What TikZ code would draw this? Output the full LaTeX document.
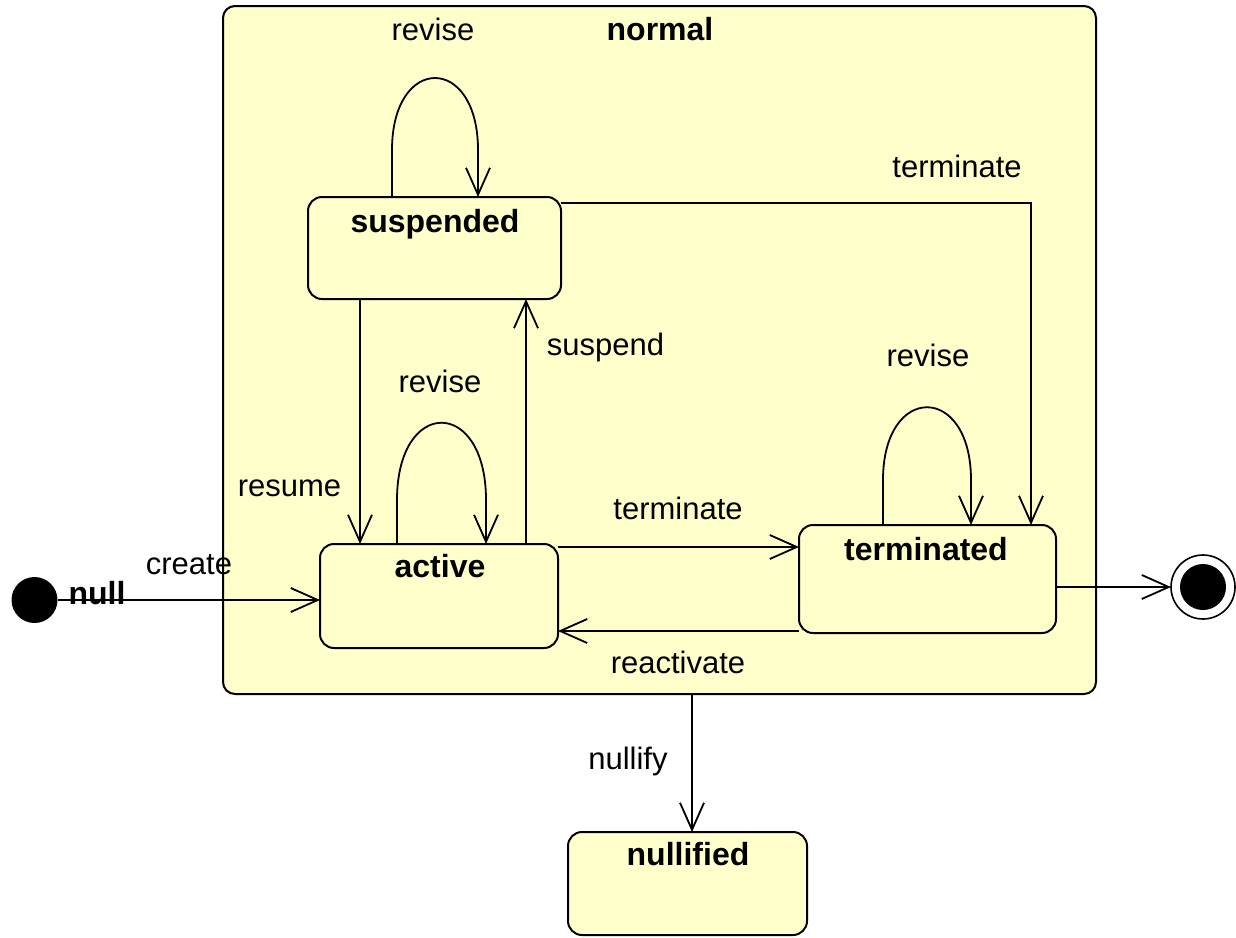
\documentclass[tikz,border=0pt]{standalone}
\usepackage{fontspec}
\setmainfont{Liberation Sans}
\usetikzlibrary{arrows.meta}
\definecolor{stfill}{RGB}{255,255,204}
\begin{document}
\begin{tikzpicture}[x=1pt,y=-1pt,
  statebox/.style={draw, line width=2pt, fill=stfill, rounded corners=14pt, inner sep=0pt, outer sep=0pt},
  lbl/.style={font=\fontsize{31}{36}\selectfont, anchor=base, inner sep=0pt},
  ttl/.style={font=\fontsize{32}{38}\selectfont\bfseries, anchor=base, inner sep=0pt},
  tr/.style={line width=1.8pt, -{Straight Barb[length=27pt,width=24pt,line width=1.8pt]}},
]
\useasboundingbox (0,0) rectangle (1236,937);

% composite state
\node[statebox, rounded corners=12pt, minimum width=873pt, minimum height=688pt] (normal) at (659.5,350) {};
\node[ttl] (normaltxt) at (660,40) {normal};

% states
\node[statebox, minimum width=253pt, minimum height=102pt] (suspended) at (434.5,248) {};
\node[ttl] (suspendedtxt) at (435,232) {suspended};
\node[statebox, minimum width=238pt, minimum height=104pt] (active) at (439,596) {};
\node[ttl] (activetxt) at (440,577) {active};
\node[statebox, minimum width=257pt, minimum height=108pt] (terminated) at (927.5,579) {};
\node[ttl] (terminatedtxt) at (926,560) {terminated};
\node[statebox, minimum width=239pt, minimum height=103pt] (nullified) at (687.5,883.5) {};
\node[ttl] (nullifiedtxt) at (688,865) {nullified};

% pseudo states
\node[circle, fill=black, minimum size=46pt, inner sep=0pt, outer sep=0pt] (init) at (34.5,600) {};
\node[ttl] (nulltxt) at (97,604) {null};
\node[circle, draw, line width=1.6pt, fill=white, minimum size=64pt, inner sep=0pt, outer sep=0pt] (final) at (1203,587) {};
\node[circle, fill=black, minimum size=46pt, inner sep=0pt] (finalcore) at (final.center) {};

% transitions
\draw[tr] (init.east) -- ([yshift=-4pt]active.west);
\node[lbl] (createtxt) at (189,574) {create};

\draw[tr] ([xshift=52pt]suspended.south west) -- ([xshift=40pt]active.north west);
\node[lbl] (resumetxt) at (289.5,496) {resume};

\draw[tr] ([xshift=206pt]active.north west) -- ([xshift=218pt]suspended.south west);
\node[lbl] (suspendtxt) at (605.5,355) {suspend};

\draw[tr] ([yshift=-6pt]suspended.north east) -| ([xshift=232pt]terminated.north west);
\node[lbl] (term1txt) at (957,177) {terminate};

\draw[tr] ([yshift=-3pt]active.north east) -- ([yshift=-22pt]terminated.north west);
\node[lbl] (term2txt) at (678,519) {terminate};

\draw[tr] ([yshift=2pt]terminated.south west) -- ([yshift=17pt]active.south east);
\node[lbl] (reacttxt) at (678,673) {reactivate};

\draw[tr] ([yshift=-8pt]terminated.east) -- (final.west);

\draw[tr] ([xshift=32.5pt]normal.south) -- ([xshift=4.5pt]nullified.north);
\node[lbl] (nullifytxt) at (628,769) {nullify};

% self loops
\draw[tr] ([xshift=84pt]suspended.north west) -- (392,150) .. controls (392,54) and (478,54) .. (478,150) -- ([xshift=170pt]suspended.north west);
\node[lbl] (rev1txt) at (433,40) {revise};

\draw[tr] ([xshift=77pt]active.north west) -- (397,500) .. controls (397,397) and (486,397) .. (486,500) -- ([xshift=166pt]active.north west);
\node[lbl] (rev2txt) at (440,392) {revise};

\draw[tr] ([xshift=84pt]terminated.north west) -- (883,480) .. controls (883,383) and (971,383) .. (971,480) -- ([xshift=172pt]terminated.north west);
\node[lbl] (rev3txt) at (928,366) {revise};
\end{tikzpicture}
\end{document}
